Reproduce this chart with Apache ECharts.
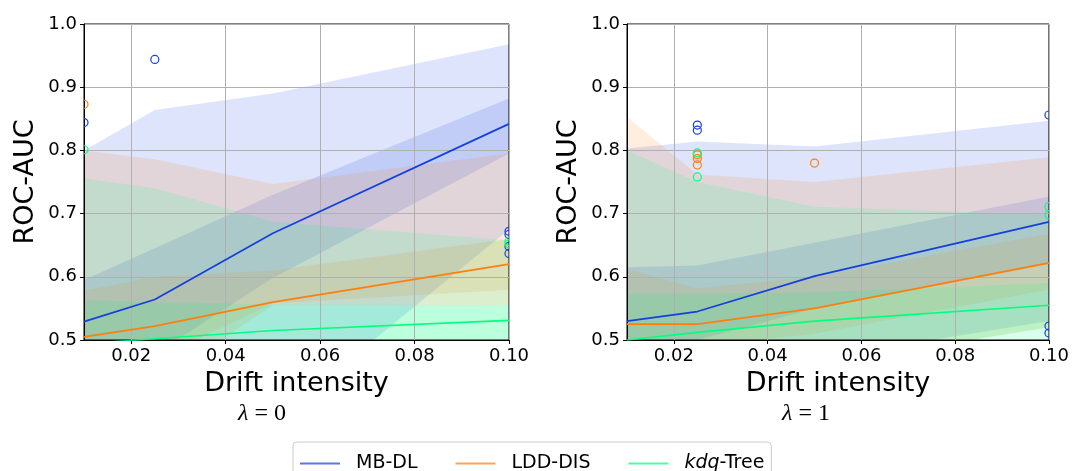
<!DOCTYPE html>
<html>
<head>
<meta charset="utf-8">
<script src="https://cdn.jsdelivr.net/npm/echarts@6/dist/echarts.min.js"></script>
<style>
html, body { margin: 0; padding: 0; background: #fff; }
#main { width: 1072px; height: 471px; }
</style>
</head>
<body>
<div id="main"></div>
<script>
// drift intensities and ticks
var intensity = [0.01, 0.025, 0.05, 0.1];
var xTicks = [0.02, 0.04, 0.06, 0.08, 0.1];
var methods = ['MB-DL', 'LDD-DIS', 'kdq-Tree'];

// lambda = 0 : median, quartiles, whiskers
var mbdlMed0 = [0.529, 0.564, 0.669, 0.842];
var mbdlQ1_0 = [0.44, 0.478, 0.598, 0.795];
var mbdlQ3_0 = [0.595, 0.645, 0.73, 0.882];
var mbdlLo0 = [0.42, 0.44, 0.37, 0.675];
var mbdlHi0 = [0.80, 0.864, 0.89, 0.968];
var lddMed0 = [0.505, 0.522, 0.56, 0.62];
var lddQ1_0 = [0.45, 0.47, 0.558, 0.579];
var lddQ3_0 = [0.578, 0.60, 0.61, 0.66];
var lddLo0 = [0.40, 0.43, 0.555, 0.555];
var lddHi0 = [0.80, 0.786, 0.747, 0.795];
var kdqMed0 = [0.494, 0.502, 0.515, 0.531];
var kdqQ1_0 = [0.45, 0.46, 0.47, 0.48];
var kdqQ3_0 = [0.563, 0.56, 0.556, 0.555];
var kdqLo0 = [0.40, 0.40, 0.40, 0.45];
var kdqHi0 = [0.756, 0.74, 0.687, 0.658];
var mbdlOut0 = [[0.01, 0.844], [0.025, 0.944], [0.1, 0.672], [0.1, 0.667], [0.1, 0.648], [0.1, 0.637]];
var lddOut0 = [[0.01, 0.873]];
var kdqOut0 = [[0.01, 0.801], [0.1, 0.656], [0.1, 0.652]];

// lambda = 1
var mbdlMed1 = [0.530, 0.545, 0.601, 0.687];
var mbdlQ1_1 = [0.47, 0.50, 0.55, 0.62];
var mbdlQ3_1 = [0.615, 0.618, 0.654, 0.727];
var mbdlLo1 = [0.40, 0.42, 0.47, 0.53];
var mbdlHi1 = [0.803, 0.814, 0.806, 0.847];
var lddMed1 = [0.525, 0.525, 0.550, 0.622];
var lddQ1_1 = [0.48, 0.49, 0.51, 0.58];
var lddQ3_1 = [0.612, 0.582, 0.60, 0.668];
var lddLo1 = [0.42, 0.44, 0.46, 0.52];
var lddHi1 = [0.853, 0.762, 0.75, 0.789];
var kdqMed1 = [0.50, 0.512, 0.530, 0.555];
var kdqQ1_1 = [0.44, 0.45, 0.46, 0.52];
var kdqQ3_1 = [0.573, 0.573, 0.575, 0.59];
var kdqLo1 = [0.40, 0.40, 0.42, 0.45];
var kdqHi1 = [0.80, 0.75, 0.711, 0.698];
var mbdlOut1 = [[0.025, 0.840], [0.025, 0.832], [0.1, 0.856], [0.1, 0.522], [0.1, 0.511]];
var lddOut1 = [[0.025, 0.793], [0.025, 0.787], [0.025, 0.777], [0.05, 0.780]];
var kdqOut1 = [[0.025, 0.796], [0.025, 0.758], [0.1, 0.711], [0.1, 0.698]];

var FONT = 'DejaVu Sans';
var colors = ['#1240e0', '#ff7f0e', '#00ff7f'];
var BAND_ALPHA = 0.14;

var myChart = echarts.init(document.getElementById('main'));

function pairs(ys) {
    return intensity.map(function (x, i) { return [x, ys[i]]; });
}

// filled band between lo and hi
function band(gi, lo, hi, color) {
    return {
        type: 'custom', xAxisIndex: gi, yAxisIndex: gi, clip: true, silent: true, z: 2,
        data: intensity.map(function (x, i) { return [x, lo[i], hi[i]]; }),
        encode: { x: 0, y: [1, 2] },
        renderItem: function (params, api) {
            if (params.dataIndex !== 0) return;
            var top = [], bottom = [];
            for (var i = 0; i < intensity.length; i++) {
                top.push(api.coord([intensity[i], hi[i]]));
                bottom.unshift(api.coord([intensity[i], lo[i]]));
            }
            return {
                type: 'polygon',
                shape: { points: top.concat(bottom) },
                style: { fill: color, opacity: BAND_ALPHA }
            };
        }
    };
}

// hollow circles, cut at the plot frame
function outliers(gi, pts, color) {
    return {
        type: 'custom', xAxisIndex: gi, yAxisIndex: gi, clip: true, silent: true, z: 20,
        data: pts,
        renderItem: function (params, api) {
            var c = api.coord([api.value(0), api.value(1)]);
            var cs = params.coordSys;
            return {
                type: 'circle',
                shape: { cx: c[0], cy: c[1], r: 4 },
                style: { fill: 'none', stroke: color, lineWidth: 1.2 },
                clipPath: { type: 'rect', shape: { x: cs.x, y: cs.y, width: cs.width, height: cs.height } }
            };
        }
    };
}

function median(gi, name, ys, color) {
    return {
        type: 'line', name: name, xAxisIndex: gi, yAxisIndex: gi, z: 20,
        data: pairs(ys), symbol: 'none', silent: true,
        lineStyle: { color: color, width: 1.7 },
        itemStyle: { color: color }
    };
}

function xAxis(gi) {
    return {
        type: 'value', gridIndex: gi, min: 0.01, max: 0.1, z: 10,
        name: 'Drift intensity', nameLocation: 'middle', nameGap: 30,
        nameTextStyle: { fontSize: 27, color: '#000', fontFamily: FONT },
        axisLine: { lineStyle: { color: '#000', width: 1 } },
        axisTick: { customValues: xTicks, length: 4, lineStyle: { color: '#000' } },
        axisLabel: {
            customValues: xTicks, fontSize: 18, color: '#000', fontFamily: FONT, margin: 7,
            formatter: function (v) { return v.toFixed(2); }
        },
        splitLine: { show: true, lineStyle: { color: '#b0b0b0', width: 1 } }
    };
}

function yAxis(gi) {
    return {
        type: 'value', gridIndex: gi, min: 0.5, max: 1.0, interval: 0.1, z: 10,
        name: 'ROC-AUC', nameLocation: 'middle', nameGap: 45,
        nameTextStyle: { fontSize: 27, color: '#000', fontFamily: FONT },
        axisLine: { show: true, lineStyle: { color: '#000', width: 1 } },
        axisTick: { show: true, length: 4, lineStyle: { color: '#000' } },
        axisLabel: {
            fontSize: 18, color: '#000', fontFamily: FONT, margin: 7,
            formatter: function (v) { return v.toFixed(1); }
        },
        splitLine: { show: true, lineStyle: { color: '#b0b0b0', width: 1 } }
    };
}

var panels = [
    {
        med: [mbdlMed0, lddMed0, kdqMed0],
        q1: [mbdlQ1_0, lddQ1_0, kdqQ1_0], q3: [mbdlQ3_0, lddQ3_0, kdqQ3_0],
        lo: [mbdlLo0, lddLo0, kdqLo0], hi: [mbdlHi0, lddHi0, kdqHi0],
        out: [mbdlOut0, lddOut0, kdqOut0]
    },
    {
        med: [mbdlMed1, lddMed1, kdqMed1],
        q1: [mbdlQ1_1, lddQ1_1, kdqQ1_1], q3: [mbdlQ3_1, lddQ3_1, kdqQ3_1],
        lo: [mbdlLo1, lddLo1, kdqLo1], hi: [mbdlHi1, lddHi1, kdqHi1],
        out: [mbdlOut1, lddOut1, kdqOut1]
    }
];

var series = [];
panels.forEach(function (p, gi) {
    for (var m = 0; m < 3; m++) {
        series.push(band(gi, p.lo[m], p.hi[m], colors[m]));
        series.push(band(gi, p.q1[m], p.q3[m], colors[m]));
    }
    for (var m = 0; m < 3; m++) {
        series.push(median(gi, methods[m], p.med[m], colors[m]));
    }
    for (var m = 0; m < 3; m++) {
        series.push(outliers(gi, p.out[m], colors[m]));
    }
});

var option = {
    animation: false,
    backgroundColor: '#fff',
    grid: [
        { left: 84, top: 24, width: 425, height: 316, show: true, borderColor: '#000', borderWidth: 1, backgroundColor: 'rgba(0,0,0,0)', z: 10 },
        { left: 627, top: 24, width: 423, height: 316, show: true, borderColor: '#000', borderWidth: 1, backgroundColor: 'rgba(0,0,0,0)', z: 10 }
    ],
    xAxis: [xAxis(0), xAxis(1)],
    yAxis: [yAxis(0), yAxis(1)],
    legend: {
        data: methods, left: 293, top: 442,
        icon: 'rect', itemWidth: 40, itemHeight: 2, itemGap: 38,
        padding: [12, 7, 12, 7],
        borderColor: '#cccccc', borderWidth: 1, borderRadius: 4, backgroundColor: '#fff',
        itemStyle: { opacity: 0.7 },
        textStyle: {
            fontSize: 19, color: '#000', fontFamily: FONT, padding: [0, 0, 0, 11],
            rich: { i: { fontStyle: 'italic', fontSize: 19, color: '#000', fontFamily: FONT } }
        },
        formatter: function (n) { return n === 'kdq-Tree' ? '{i|kdq}-Tree' : n; }
    },
    graphic: [
        {
            type: 'text', x: 262, y: 414,
            style: {
                text: '{l|λ} = 0', align: 'center', verticalAlign: 'middle',
                font: '24px "Liberation Serif"', fill: '#000',
                rich: { l: { fontStyle: 'italic', fontSize: 24, fontFamily: 'Liberation Serif', fill: '#000' } }
            }
        },
        {
            type: 'text', x: 806, y: 414,
            style: {
                text: '{l|λ} = 1', align: 'center', verticalAlign: 'middle',
                font: '24px "Liberation Serif"', fill: '#000',
                rich: { l: { fontStyle: 'italic', fontSize: 24, fontFamily: 'Liberation Serif', fill: '#000' } }
            }
        }
    ],
    series: series
};

myChart.setOption(option);

window.onresize = function () {
    myChart.resize();
};
</script>
</body>
</html>
